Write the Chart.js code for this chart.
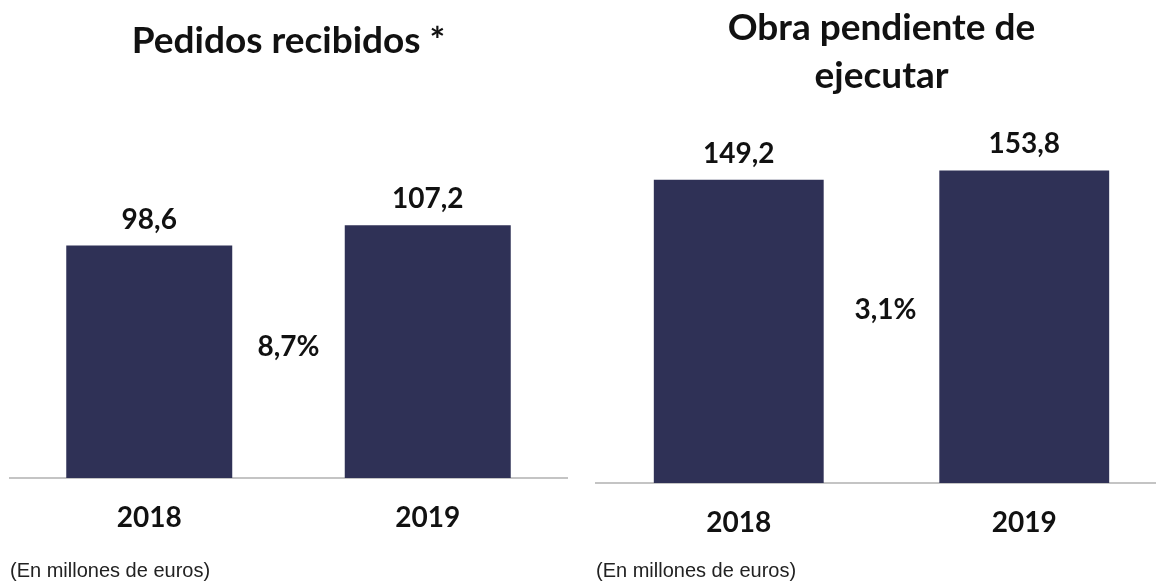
<!DOCTYPE html>
<html lang="es">
<head>
<meta charset="utf-8">
<title>Pedidos recibidos / Obra pendiente de ejecutar</title>
<script src="https://cdn.jsdelivr.net/npm/chart.js@4.4.0/dist/chart.umd.min.js"></script>
<style>
    html, body { margin: 0; padding: 0; background: #fff; overflow: hidden; }
    body { width: 1156px; height: 583px; position: relative; }
    canvas { position: absolute; top: 0; }
    #pedidos { left: 0; }
    #obra { left: 578px; }
</style>
</head>
<body>
<canvas id="pedidos" width="578" height="583"></canvas>
<canvas id="obra" width="592" height="583"></canvas>
<script>
// Two small bar charts, side by side: orders received and backlog,
// 2018 vs 2019, with the year-on-year growth printed between the bars.

// ---- Data ----

const YEARS = ['2018', '2019'];
const PEDIDOS = [98.6, 107.2];
const OBRA = [149.2, 153.8];
const GROWTH = ['8,7%', '3,1%'];
const TITLES = [['Pedidos recibidos *'], ['Obra pendiente de', 'ejecutar']];
const FOOTNOTE = '(En millones de euros)';

(() => {
    'use strict';

    const BAR_COLOUR = '#2f3156';
    const TEXT_COLOUR = '#111111';
    const AXIS_COLOUR = '#c4c4c4';
    const BOLD = "'Lato', 'Open Sans', sans-serif";

    function fmt(v) {
        return v.toFixed(1).replace('.', ',');
    }

    // value above each bar + growth text between the two bars
    const barLabels = {
        id: 'barLabels',
        afterDatasetsDraw(chart, args, opts) {
            const { ctx } = chart;
            const meta = chart.getDatasetMeta(0);
            const values = chart.data.datasets[0].data;
            ctx.save();
            ctx.font = `700 28px ${BOLD}`;
            ctx.fillStyle = TEXT_COLOUR;
            ctx.textAlign = 'center';
            ctx.textBaseline = 'alphabetic';
            meta.data.forEach((bar, i) => {
                ctx.fillText(fmt(values[i]), bar.x, bar.y - 17);
            });
            const x = chart.scales.x.getPixelForValue(0.5);
            const y = chart.scales.y.getPixelForValue(opts.at);
            ctx.textBaseline = 'middle';
            ctx.fillText(opts.text, x + opts.dx, y);
            ctx.restore();
        },
    };

    function makeChart(id, values, cfg) {
        return new Chart(document.getElementById(id), {
            type: 'bar',
            data: {
                labels: YEARS,
                datasets: [{
                    data: values,
                    backgroundColor: BAR_COLOUR,
                    borderWidth: 0,
                    categoryPercentage: 1,
                    barPercentage: cfg.barPct,
                }],
            },
            plugins: [barLabels],
            options: {
                responsive: false,
                animation: false,
                events: [],
                layout: { padding: { left: cfg.padLeft, right: cfg.padRight, top: 0, bottom: 0 } },
                plugins: {
                    legend: { display: false },
                    tooltip: { enabled: false },
                    title: {
                        display: true,
                        text: cfg.title,
                        color: TEXT_COLOUR,
                        font: { family: BOLD, size: 37, weight: '700', lineHeight: cfg.titleLineHeight },
                        padding: cfg.titlePad,
                    },
                    subtitle: {
                        display: true,
                        position: 'bottom',
                        align: 'start',
                        text: FOOTNOTE,
                        color: '#222',
                        font: { family: "'Liberation Sans', Arial, sans-serif", size: 20, weight: '400', lineHeight: 1.2 },
                        padding: cfg.notePad,
                    },
                    barLabels: { text: cfg.growth, at: cfg.growthAt, dx: cfg.growthDx },
                },
                scales: {
                    x: {
                        grid: { display: false, drawTicks: false },
                        border: { display: true, color: AXIS_COLOUR, width: 2 },
                        ticks: {
                            color: TEXT_COLOUR,
                            padding: 23,
                            font: { family: BOLD, size: 28, weight: '700', lineHeight: 1.2 },
                        },
                        // keep the axis band a fixed height so the footnote sits right
                        afterFit: (scale) => { scale.height = 57; },
                    },
                    y: {
                        display: false,
                        min: 0,
                        max: cfg.yMax,
                    },
                },
            },
        });
    }

    makeChart('pedidos', PEDIDOS, {
        title: TITLES[0],
        titleLineHeight: 1.2,
        titlePad: { top: 19, bottom: 61 },
        notePad: { top: 24, bottom: 0 },
        padLeft: 10,
        padRight: 11,
        barPct: 0.596,
        yMax: 150,
        growth: GROWTH[0],
        growthAt: 55.5,
        growthDx: 0,
    });

    makeChart('obra', OBRA, {
        title: TITLES[1],
        titleLineHeight: 1.3,
        titlePad: { top: 4, bottom: 17 },
        notePad: { top: 19, bottom: 0 },
        padLeft: 18,
        padRight: 3,
        barPct: 0.595,
        yMax: 180,
        growth: GROWTH[1],
        growthAt: 85,
        growthDx: 4,
    });
})();
</script>
</body>
</html>
